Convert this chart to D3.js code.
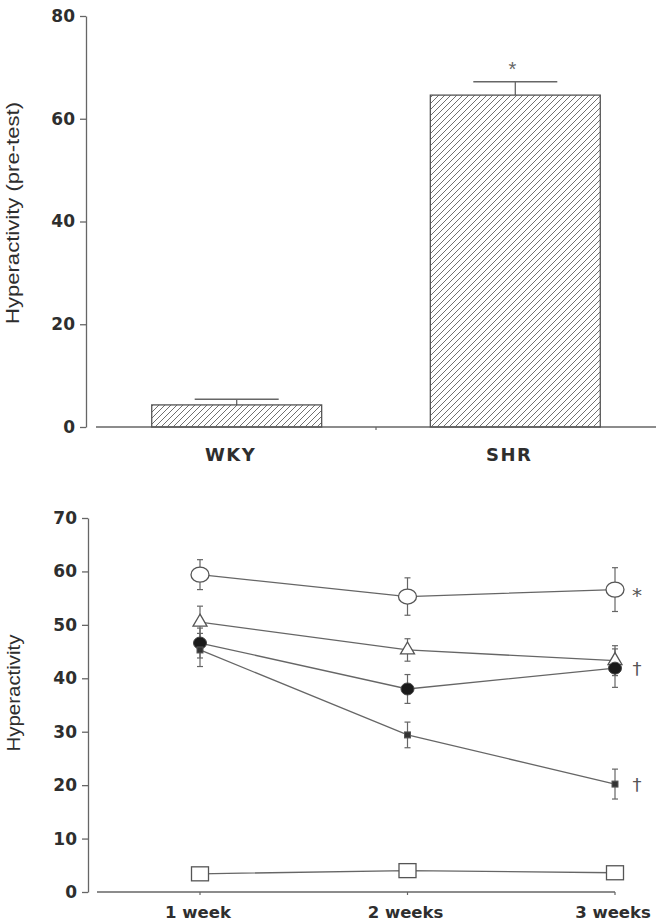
<!DOCTYPE html>
<html>
<head>
<meta charset="utf-8">
<script src="https://cdn.jsdelivr.net/npm/d3@7"></script>
<style>
  body { margin: 0; background: #fff; }
  svg { display: block; }
</style>
</head>
<body>
<div id="chart"></div>
<script>
// top panel: pre-test bars
const barCats = ['WKY', 'SHR'];
const barMeans = [4.3, 64.6];
const barErr = [1.1, 2.6];
const barNotes = ['', '*'];
const barTicks = [0, 20, 40, 60, 80];

// bottom panel: weekly series
const weeks = ['1 week', '2 weeks', '3 weeks'];
const lineTicks = [0, 10, 20, 30, 40, 50, 60, 70];
const openCircle = [59.4, 55.3, 56.6];
const openCircleErr = [2.8, 3.5, 4.1];
const openTriangle = [50.5, 45.3, 43.3];
const openTriangleErr = [3.0, 2.1, 2.8];
const filledCircle = [46.6, 38.0, 41.9];
const filledCircleErr = [2.8, 2.7, 3.6];
const smallSquare = [45.3, 29.4, 20.2];
const smallSquareErr = [3.1, 2.4, 2.8];
const openSquare = [3.4, 4.0, 3.6];
const openSquareErr = [0, 0, 0];
const endNotes = ['*', '', '\u2020', '\u2020', ''];

const W = 662, H = 922;
const AXIS = '#666', INK = '#2e2e2e';
const BOLD = '"DejaVu Sans", sans-serif';
const SANS = '"Liberation Sans", Arial, sans-serif';

const svg = d3.select('#chart').append('svg')
    .attr('width', W)
    .attr('height', H);

const defs = svg.append('defs');
defs.append('pattern')
    .attr('id', 'hatch')
    .attr('patternUnits', 'userSpaceOnUse')
    .attr('width', 6)
    .attr('height', 6)
    .append('path')
    .attr('d', 'M-1,1 l2,-2 M0,6 l6,-6 M5,7 l2,-2')
    .attr('stroke', '#707070')
    .attr('stroke-width', 1);

function styleAxis(g) {
    g.select('.domain').attr('stroke', AXIS).attr('stroke-width', 1.3);
    g.selectAll('.tick line').attr('stroke', AXIS).attr('stroke-width', 1.3);
    g.selectAll('.tick text')
        .attr('fill', INK)
        .style('font-family', BOLD)
        .style('font-weight', 'bold')
        .style('font-size', '17px');
}

// ---------- top panel ----------
const yTop = d3.scaleLinear().domain([0, 80]).range([427, 16]);
const xTop = d3.scaleBand().domain(barCats).range([96, 656])
    .paddingInner(0.39).paddingOuter(0.2);
const topAxisX = 86;

let gy = svg.append('g')
    .attr('transform', 'translate(' + topAxisX + ',0)')
    .call(d3.axisLeft(yTop).tickValues(barTicks).tickSize(6).tickSizeOuter(0).tickPadding(5));
styleAxis(gy);

// baseline with a single divider tick between the bars
svg.append('line')
    .attr('x1', xTop.range()[0]).attr('x2', xTop.range()[1])
    .attr('y1', yTop(0)).attr('y2', yTop(0))
    .attr('stroke', AXIS).attr('stroke-width', 1.3);
let mid = xTop('WKY') + xTop.bandwidth() + (xTop.step() - xTop.bandwidth()) / 2;
svg.append('line')
    .attr('x1', mid).attr('x2', mid)
    .attr('y1', yTop(0)).attr('y2', yTop(0) + 3)
    .attr('stroke', AXIS).attr('stroke-width', 1.2);

let bars = svg.append('g').selectAll('g')
    .data(barCats.map((c, i) => ({cat: c, v: barMeans[i], e: barErr[i], note: barNotes[i]})))
    .join('g');

bars.append('line')
    .attr('x1', d => xTop(d.cat) + xTop.bandwidth() / 2)
    .attr('x2', d => xTop(d.cat) + xTop.bandwidth() / 2)
    .attr('y1', d => yTop(d.v))
    .attr('y2', d => yTop(d.v + d.e))
    .attr('stroke', AXIS).attr('stroke-width', 1.3);
bars.append('line')
    .attr('x1', d => xTop(d.cat) + xTop.bandwidth() / 2 - 42)
    .attr('x2', d => xTop(d.cat) + xTop.bandwidth() / 2 + 42)
    .attr('y1', d => yTop(d.v + d.e))
    .attr('y2', d => yTop(d.v + d.e))
    .attr('stroke', AXIS).attr('stroke-width', 1.3);

bars.append('rect')
    .attr('x', d => xTop(d.cat))
    .attr('y', d => yTop(d.v))
    .attr('width', xTop.bandwidth())
    .attr('height', d => yTop(0) - yTop(d.v))
    .attr('fill', 'url(#hatch)')
    .attr('stroke', '#555')
    .attr('stroke-width', 1.3);

bars.append('text')
    .text(d => d.note)
    .attr('x', d => xTop(d.cat) + xTop.bandwidth() / 2 - 3)
    .attr('y', d => yTop(d.v + d.e) - 6)
    .attr('text-anchor', 'middle')
    .attr('fill', '#666')
    .style('font-family', SANS)
    .style('font-size', '20px');

bars.append('text')
    .text(d => d.cat)
    .attr('x', d => xTop(d.cat) + xTop.bandwidth() / 2 - 6)
    .attr('y', 461)
    .attr('text-anchor', 'middle')
    .attr('fill', INK)
    .style('font-family', BOLD)
    .style('font-weight', 'bold')
    .style('font-size', '18px')
    .style('letter-spacing', '1.5px');

svg.append('text')
    .text('Hyperactivity (pre-test)')
    .attr('transform', 'translate(19,' + 213 + ') rotate(-90)')
    .attr('text-anchor', 'middle')
    .attr('fill', INK)
    .attr('textLength', 222)
    .attr('lengthAdjust', 'spacingAndGlyphs')
    .style('font-family', SANS)
    .style('font-size', '19px');

// ---------- bottom panel ----------
const yBot = d3.scaleLinear().domain([0, 70]).range([892, 518]);
const xBot = d3.scalePoint().domain(weeks).range([200, 615]);
const botAxisX = 88;

let gy2 = svg.append('g')
    .attr('transform', 'translate(' + botAxisX + ',0)')
    .call(d3.axisLeft(yBot).tickValues(lineTicks).tickSize(6).tickSizeOuter(0).tickPadding(5));
styleAxis(gy2);

svg.append('line')
    .attr('x1', botAxisX + 9).attr('x2', xBot.range()[1])
    .attr('y1', yBot(0)).attr('y2', yBot(0))
    .attr('stroke', AXIS).attr('stroke-width', 1.3);
svg.append('g').selectAll('line')
    .data(weeks)
    .join('line')
    .attr('x1', d => xBot(d)).attr('x2', d => xBot(d))
    .attr('y1', yBot(0)).attr('y2', yBot(0) + 3)
    .attr('stroke', AXIS).attr('stroke-width', 1.2);
svg.append('g').selectAll('text')
    .data(weeks)
    .join('text')
    .text(d => d)
    .attr('x', d => xBot(d) - 2)
    .attr('y', 918)
    .attr('text-anchor', 'middle')
    .attr('fill', INK)
    .style('font-family', BOLD)
    .style('font-weight', 'bold')
    .style('font-size', '16.5px');

svg.append('text')
    .text('Hyperactivity')
    .attr('transform', 'translate(20,' + 693 + ') rotate(-90)')
    .attr('text-anchor', 'middle')
    .attr('fill', INK)
    .attr('textLength', 117)
    .attr('lengthAdjust', 'spacingAndGlyphs')
    .style('font-family', SANS)
    .style('font-size', '19px');

const series = [
    {name: 'openCircle', v: openCircle, e: openCircleErr},
    {name: 'openTriangle', v: openTriangle, e: openTriangleErr},
    {name: 'filledCircle', v: filledCircle, e: filledCircleErr},
    {name: 'smallSquare', v: smallSquare, e: smallSquareErr},
    {name: 'openSquare', v: openSquare, e: openSquareErr}
];

const line = d3.line()
    .x((d, i) => xBot(weeks[i]))
    .y(d => yBot(d));

let sg = svg.append('g');
sg.selectAll('path.ln')
    .data(series)
    .join('path')
    .attr('class', 'ln')
    .attr('d', d => line(d.v))
    .attr('fill', 'none')
    .attr('stroke', '#666')
    .attr('stroke-width', 1.3);

// error bars
series.forEach(s => {
    let pts = s.v.map((v, i) => ({x: xBot(weeks[i]), v: v, e: s.e[i]})).filter(p => p.e > 0);
    let eg = sg.append('g').attr('stroke', '#666').attr('stroke-width', 1.2);
    pts.forEach(p => {
        eg.append('line').attr('x1', p.x).attr('x2', p.x)
            .attr('y1', yBot(p.v - p.e)).attr('y2', yBot(p.v + p.e));
        [p.v - p.e, p.v + p.e].forEach(c => {
            eg.append('line').attr('x1', p.x - 3).attr('x2', p.x + 3)
                .attr('y1', yBot(c)).attr('y2', yBot(c));
        });
    });
});

// markers
function drawMarker(g, name, x, y) {
    if (name === 'openCircle') {
        g.append('ellipse').attr('cx', x).attr('cy', y).attr('rx', 9).attr('ry', 7.5)
            .attr('fill', '#fff').attr('stroke', '#555').attr('stroke-width', 1.3);
    } else if (name === 'openTriangle') {
        g.append('path')
            .attr('d', 'M' + x + ',' + (y - 8) + 'L' + (x + 7) + ',' + (y + 4) + 'L' + (x - 7) + ',' + (y + 4) + 'Z')
            .attr('fill', '#fff').attr('stroke', '#555').attr('stroke-width', 1.3);
    } else if (name === 'filledCircle') {
        g.append('ellipse').attr('cx', x).attr('cy', y).attr('rx', 6.5).attr('ry', 6)
            .attr('fill', '#1a1a1a').attr('stroke', '#444').attr('stroke-width', 1);
    } else if (name === 'smallSquare') {
        g.append('rect').attr('x', x - 3).attr('y', y - 3).attr('width', 6).attr('height', 6)
            .attr('fill', '#333').attr('stroke', '#555').attr('stroke-width', 1);
    } else if (name === 'openSquare') {
        g.append('rect').attr('x', x - 8.5).attr('y', y - 7).attr('width', 17).attr('height', 14)
            .attr('fill', '#fff').attr('stroke', '#555').attr('stroke-width', 1.3);
    }
}

let mg = svg.append('g');
series.forEach(s => {
    s.v.forEach((v, i) => drawMarker(mg, s.name, xBot(weeks[i]), yBot(v)));
});

// significance marks after the last week
svg.append('g').selectAll('text')
    .data(series.map((s, i) => ({v: s.v[s.v.length - 1], note: endNotes[i]})).filter(d => d.note))
    .join('text')
    .text(d => d.note)
    .attr('x', xBot(weeks[weeks.length - 1]) + 22)
    .attr('y', d => yBot(d.v) + (d.note === '*' ? 12 : 7))
    .attr('text-anchor', 'middle')
    .attr('fill', '#555')
    .style('font-family', '"DejaVu Sans", sans-serif')
    .style('font-size', d => d.note === '*' ? '20px' : '18px');
</script>
</body>
</html>
